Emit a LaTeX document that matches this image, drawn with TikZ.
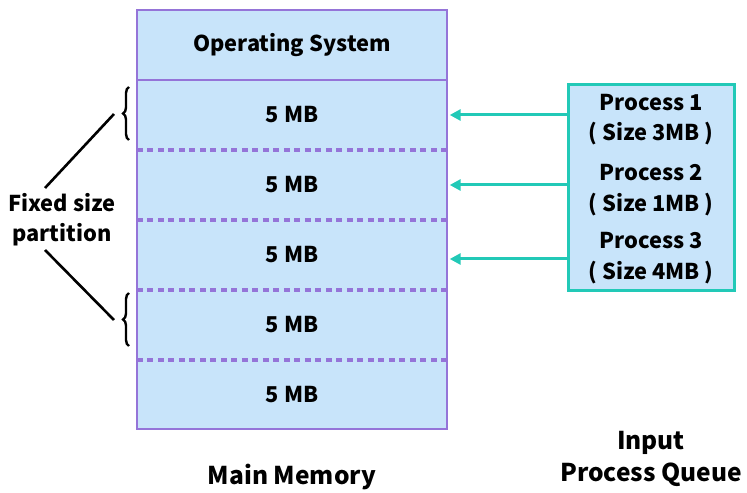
\documentclass[tikz,border=0pt]{standalone}
\usepackage{fontspec}
\setmainfont{Noto Sans CJK SC}
\usetikzlibrary{arrows.meta,decorations.pathreplacing}
\definecolor{memfill}{HTML}{C8E4FA}
\definecolor{membord}{HTML}{9574D8}
\definecolor{teal}{HTML}{22C9B7}
\tikzset{
  lbl/.style={font=\fontsize{21.8bp}{27bp}\selectfont\bfseries, text=black},
  captxt/.style={font=\fontsize{24.5bp}{30bp}\selectfont\bfseries, text=black},
  part/.style={minimum width=310bp, minimum height=70bp, inner sep=0pt, lbl},
  dashsep/.style={membord, line width=3.5bp, dash pattern=on 6bp off 4.5bp},
  arr/.style={teal, line width=3bp, -{Triangle[length=11bp,width=11bp]}},
  br/.style={black, line width=2.4bp, decorate, decoration={brace, amplitude=6bp}},
  lead/.style={black, line width=2.6bp}
}
\begin{document}
\begin{tikzpicture}[x=1bp,y=-1bp]
\useasboundingbox (0,0) rectangle (747,493);
\fill[memfill] (137,10) rectangle (447,429);
\node[part] (os) at (292,45) {Operating System};
\node[part] (p1) at (292,115) {5 MB};
\node[part] (p2) at (292,185) {5 MB};
\node[part] (p3) at (292,255) {5 MB};
\node[part] (p4) at (292,325) {5 MB};
\node[part] (p5) at (292,394.5) {5 MB};
\draw[dashsep] (p1.south west) -- (p1.south east);
\draw[dashsep] (p2.south west) -- (p2.south east);
\draw[dashsep] (p3.south west) -- (p3.south east);
\draw[dashsep] (p4.south west) -- (p4.south east);
\draw[membord, line width=2.6bp] (137,80) -- (447,80);
\draw[membord, line width=2.6bp] (137,10) rectangle (447,429);
% queue
\node[draw=teal, fill=memfill, line width=3bp, minimum width=166bp, minimum height=205bp, inner sep=0pt] (q) at (651,187.5) {};
\node[lbl, align=center] (q1) at (651,119.5) {Process 1\\[3.5bp]( Size 3MB )};
\node[lbl, align=center] (q2) at (651,190) {Process 2\\[3.5bp]( Size 1MB )};
\node[lbl, align=center] (q3) at (651,258) {Process 3\\[3.5bp]( Size 4MB )};
\draw[arr] (q.west |- p1.east) -- ([xshift=2.5bp]p1.east);
\draw[arr] (q.west |- p2.east) -- ([xshift=2.5bp]p2.east);
\draw[arr] (q.west |- 0,259) -- ([xshift=2.5bp]p3.east |- 0,259);
% braces
\coordinate (b1t) at (129,87);
\coordinate (b1b) at (129,140);
\coordinate (b2t) at (129,293);
\coordinate (b2b) at (129,346);
\draw[br] (b1b) -- (b1t);
\draw[br] (b2b) -- (b2t);
\node[lbl, align=center] (fx) at (62,220) {Fixed size\\[3bp]partition};
\coordinate (t1) at (114,114);
\coordinate (t2) at (114,320);
\draw[lead] (45,188) -- (t1);
\draw[lead] (45,250) -- (t2);
% captions
\node[captxt] (mm) at (292,477) {Main Memory};
\node[captxt, align=center] (iq) at (651,459) {Input\\[2bp]Process Queue};
\end{tikzpicture}
\end{document}
